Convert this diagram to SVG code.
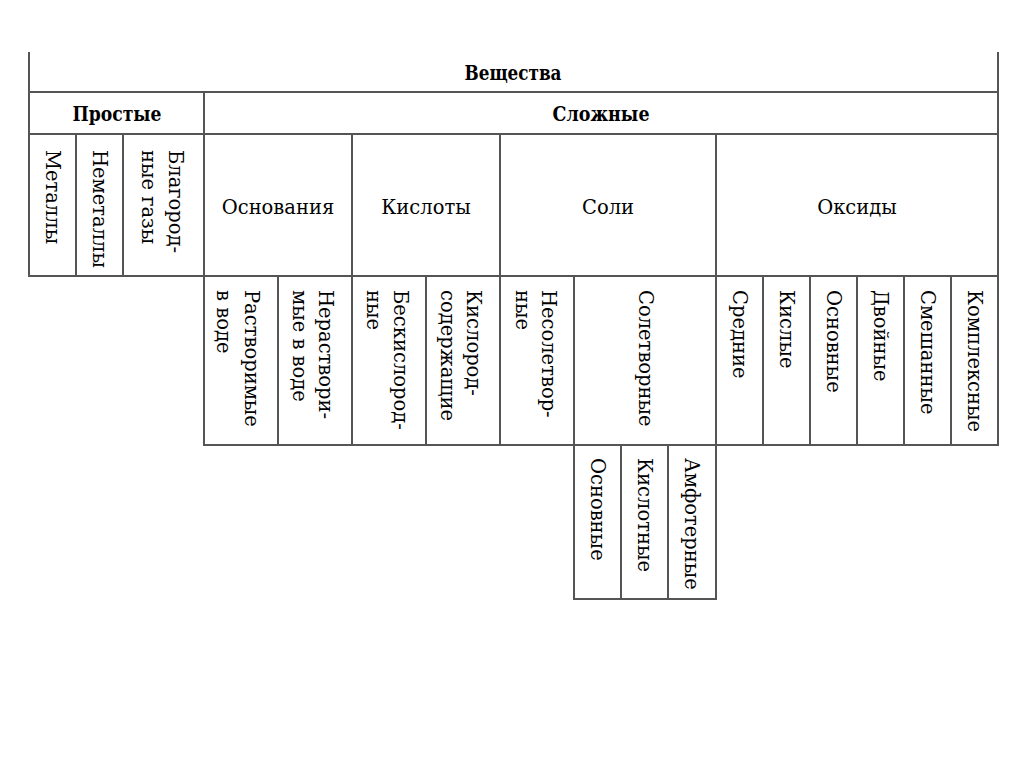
<svg xmlns="http://www.w3.org/2000/svg" width="1024" height="768" viewBox="0 0 1024 768">
<style>
.grid{stroke:#555;stroke-width:2;fill:none;stroke-linecap:square}
text{font-family:"DejaVu Serif","Liberation Serif",serif;fill:#000}
.h{font-size:20px;font-weight:bold;text-anchor:middle;dominant-baseline:central}
.c{font-size:19.5px;text-anchor:middle;dominant-baseline:central}
.v{font-size:19.5px;dominant-baseline:central}
</style>
<rect width="1024" height="768" fill="#fff"/>
<g id="connectors" class="grid">
<path d="M29 53V276M998 53V445M204 92V445M76 134V276M123 134V276M352 134V445M500 134V445M716 134V599M278 276V445M426 276V445M574 276V599M763 276V445M810 276V445M857 276V445M904 276V445M951 276V445M621 445V599M668 445V599"/>
<path d="M29 92H998M29 134H998M29 276H998M204 445H998M574 599H716"/>
</g>
<g id="veshchestva"><text class="h" x="513" y="73" textLength="97" lengthAdjust="spacingAndGlyphs">Вещества</text></g>
<g id="prostye"><text class="h" x="117" y="114" textLength="89" lengthAdjust="spacingAndGlyphs">Простые</text></g>
<g id="slozhnye"><text class="h" x="601" y="114" textLength="97" lengthAdjust="spacingAndGlyphs">Сложные</text></g>
<g id="metally"><text class="v" transform="translate(52,150) rotate(90)">Металлы</text></g>
<g id="nemetally"><text class="v" transform="translate(99,150) rotate(90)">Неметаллы</text></g>
<g id="blagorodnye"><text class="v" transform="translate(175,150) rotate(90)">Благород-</text><text class="v" transform="translate(148,150) rotate(90)">ные газы</text></g>
<g id="osnovaniya"><text class="c" x="278" y="207">Основания</text></g>
<g id="kisloty"><text class="c" x="426" y="207">Кислоты</text></g>
<g id="soli"><text class="c" x="608" y="207">Соли</text></g>
<g id="oksidy"><text class="c" x="857" y="207">Оксиды</text></g>
<g id="rastvorimye"><text class="v" transform="translate(251,290) rotate(90)">Растворимые</text><text class="v" transform="translate(223,290) rotate(90)">в воде</text></g>
<g id="nerastvorimye"><text class="v" transform="translate(325,290) rotate(90)">Нераствори-</text><text class="v" transform="translate(299,290) rotate(90)">мые в воде</text></g>
<g id="beskislorodnye"><text class="v" transform="translate(400,290) rotate(90)">Бескислород-</text><text class="v" transform="translate(373,290) rotate(90)">ные</text></g>
<g id="kislorodsoderzhashchie"><text class="v" transform="translate(473,290) rotate(90)">Кислород-</text><text class="v" transform="translate(447,290) rotate(90)">содержащие</text></g>
<g id="nesoletvornye"><text class="v" transform="translate(548,290) rotate(90)">Несолетвор-</text><text class="v" transform="translate(522,290) rotate(90)">ные</text></g>
<g id="soletvornye"><text class="v" transform="translate(645,290) rotate(90)">Солетворные</text></g>
<g id="srednie"><text class="v" transform="translate(739,290) rotate(90)">Средние</text></g>
<g id="kislye"><text class="v" transform="translate(786,290) rotate(90)">Кислые</text></g>
<g id="osnovnye-soli"><text class="v" transform="translate(833,290) rotate(90)">Основные</text></g>
<g id="dvoinye"><text class="v" transform="translate(880,290) rotate(90)">Двойные</text></g>
<g id="smeshannye"><text class="v" transform="translate(927,290) rotate(90)">Смешанные</text></g>
<g id="kompleksnye"><text class="v" transform="translate(974,290) rotate(90)">Комплексные</text></g>
<g id="osnovnye-oksidy"><text class="v" transform="translate(597,458) rotate(90)">Основные</text></g>
<g id="kislotnye"><text class="v" transform="translate(644,458) rotate(90)">Кислотные</text></g>
<g id="amfoternye"><text class="v" transform="translate(691,458) rotate(90)">Амфотерные</text></g>
</svg>
